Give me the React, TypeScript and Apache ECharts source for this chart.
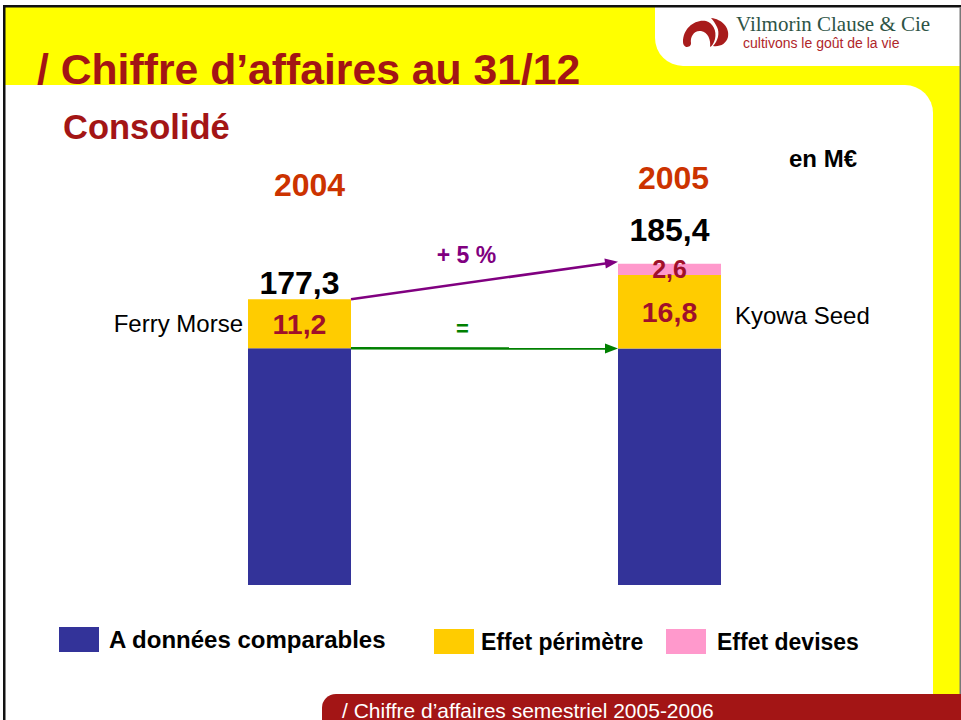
import React, { useEffect, useRef } from "react";
import * as echarts from "echarts";

const categories = ["2004", "2005"];
const comparable = [166.1, 166.0];
const perimetre = [11.2, 16.8];
const devises: (number | null)[] = [null, 2.6];
const totals = [177.3, 185.4];
const legendNames = ["A données comparables", "Effet périmètre", "Effet devises"];
const sideLabels = ["Ferry Morse", "Kyowa Seed"];
const growthLabel = "+ 5 %";
const flatLabel = "=";
const titleText = "/ Chiffre d\u2019affaires au 31/12";
const subtitleText = "Consolidé";
const unitText = "en M€";
const footerText = "/ Chiffre d\u2019affaires semestriel 2005-2006";
const brandName = "Vilmorin Clause & Cie";
const brandTagline = "cultivons le goût de la vie";

const F = "'Liberation Sans', Arial, sans-serif";
const FS = "'Liberation Serif', 'Times New Roman', serif";
const fmt = (v: number) => String(v).replace(".", ",");

echarts.graphic.registerShape(
  "vcLeft",
  echarts.graphic.extendPath(
    "M 1 25 C 1 11 13 2 24 4 C 31 6 35 14 33 22 C 32 26 30 29 28 30 C 29 23 26 15 19 14 C 12 13 8 20 9 26 C 9 29 7 30 4 30 C 2 29 1 27 1 25 Z",
    {}
  )
);
echarts.graphic.registerShape(
  "vcRight",
  echarts.graphic.extendPath(
    "M 29 1 C 40 2 48 11 46 20 C 44 27 38 30 31 29 C 36 24 38 16 35 10 C 33 6 31 3 29 1 Z",
    {}
  )
);

export default function App() {
  const ref = useRef<HTMLDivElement>(null);
  useEffect(() => {
    if (!ref.current) return;
    const chart = echarts.init(ref.current, null, { renderer: "svg" });
    const legendPos = [
      [59, 627, 5, 24],
      [434, 629, 2, 23],
      [666, 629, 6, 23],
    ];
    const totalDistance = [0, 18];
    const yearFont = { color: "#cc3300", fontSize: 32, fontWeight: "bold", fontFamily: F };
    chart.setOption({
      animation: false,
      backgroundColor: "#ffffff",
      grid: { left: 114.5, right: 106.5, top: 156, bottom: 135 },
      xAxis: {
        type: "category",
        data: categories,
        position: "top",
        offset: -45,
        axisLine: { show: false },
        axisTick: { show: false },
        splitLine: { show: false },
        axisLabel: {
          margin: 0,
          ...yearFont,
          formatter: (v: string, i: number) => `{y${i}|${v}}`,
          rich: {
            y0: { ...yearFont, padding: [0, 0, 0, 20] },
            y1: { ...yearFont, padding: [0, 0, 7, 8] },
          },
        },
      },
      yAxis: { type: "value", min: 112, max: 210, show: false },
      legend: legendNames.map((n, i) => ({
        data: [n],
        left: legendPos[i][0],
        top: legendPos[i][1],
        padding: 0,
        itemWidth: 40,
        itemHeight: 25,
        icon: "rect",
        selectedMode: false,
        textStyle: {
          fontSize: legendPos[i][3],
          fontWeight: "bold",
          color: "#000",
          fontFamily: F,
          padding: [0, 0, 0, legendPos[i][2]],
        },
      })),
      series: [
        {
          name: legendNames[0],
          type: "bar",
          stack: "ca",
          barWidth: 103,
          data: comparable,
          itemStyle: { color: "#333399" },
        },
        {
          name: legendNames[1],
          type: "bar",
          stack: "ca",
          barWidth: 103,
          data: perimetre,
          itemStyle: { color: "#ffcc00" },
          label: {
            show: true,
            position: "inside",
            formatter: (p: any) => fmt(p.value),
            color: "#a0102a",
            fontSize: 28.5,
            fontWeight: "bold",
            fontFamily: F,
          },
        },
        {
          name: legendNames[2],
          type: "bar",
          stack: "ca",
          barWidth: 103,
          data: devises,
          itemStyle: { color: "#ff99cc" },
          label: {
            show: true,
            position: "inside",
            formatter: (p: any) => fmt(p.value),
            color: "#a0102a",
            fontSize: 25,
            fontWeight: "bold",
            fontFamily: F,
          },
        },
        {
          type: "scatter",
          silent: true,
          symbolSize: 0,
          itemStyle: { opacity: 1 },
          data: totals.map((t, i) => ({
            value: [categories[i], t],
            label: { distance: totalDistance[i] },
          })),
          label: {
            show: true,
            position: "top",
            formatter: (p: any) => fmt(p.value[1]),
            color: "#000000",
            fontSize: 32,
            fontWeight: "bold",
            fontFamily: F,
          },
        },
      ],
    });

    const px = (c: string) => chart.convertToPixel({ xAxisIndex: 0 }, c) as number;
    const py = (v: number) => chart.convertToPixel({ yAxisIndex: 0 }, v) as number;
    const half = 51.5;
    const x0 = px(categories[0]);
    const x1 = px(categories[1]);
    const yTot0 = py(totals[0]);
    const yTot1 = py(totals[1]);
    const yBase0 = py(comparable[0]);
    const yBase1 = py(comparable[1]);
    const yPer1 = py(comparable[1] + perimetre[1]);

    const arrow = (xa: number, ya: number, xb: number, yb: number, color: string) => {
      const dx = xb - xa, dy = yb - ya;
      const L = Math.hypot(dx, dy);
      const ux = dx / L, uy = dy / L;
      const hl = 13, hw = 5;
      const bx = xb - ux * hl, by = yb - uy * hl;
      return [
        { type: "line", z: 10, shape: { x1: xa, y1: ya, x2: bx + ux * 2, y2: by + uy * 2 }, style: { stroke: color, lineWidth: 2.5 } },
        {
          type: "polygon",
          z: 10,
          shape: { points: [[xb, yb], [bx - uy * hw, by + ux * hw], [bx + uy * hw, by - ux * hw]] },
          style: { fill: color },
        },
      ];
    };

    const pStart = [x0 + half, yTot0];
    const pEnd = [x1 - half, yTot1 - 2];
    const gStart = [x0 + half, yBase0];
    const gEnd = [x1 - half, yBase1];

    const bg = -10;
    chart.setOption({
      graphic: [
        { type: "rect", z: bg, shape: { x: 0, y: 0, width: 961, height: 720 }, style: { fill: "#ffffff" } },
        { type: "rect", z: bg, shape: { x: 5, y: 7, width: 956, height: 687 }, style: { fill: "#ffff00" } },
        { type: "rect", z: bg, shape: { x: 5, y: 85, width: 928, height: 635, r: [0, 28, 0, 0] }, style: { fill: "#ffffff" } },
        { type: "rect", z: bg, shape: { x: 655, y: 7, width: 306, height: 59, r: [0, 0, 0, 28] }, style: { fill: "#ffffff" } },
        { type: "rect", z: bg, shape: { x: 3, y: 5, width: 958, height: 2.5 }, style: { fill: "#111111" } },
        { type: "rect", z: bg, shape: { x: 3, y: 5, width: 2.5, height: 715 }, style: { fill: "#111111" } },
        { type: "rect", z: bg, shape: { x: 959.5, y: 7, width: 1.5, height: 687 }, style: { fill: "#777777" } },
        { type: "rect", z: bg, shape: { x: 322, y: 694, width: 639, height: 26, r: [14, 0, 0, 0] }, style: { fill: "#a31515" } },
        { type: "vcLeft", z: 10, x: 682, y: 17, style: { fill: "#a81c1c" } },
        { type: "vcRight", z: 10, x: 682, y: 17, style: { fill: "#a81c1c" } },
        {
          type: "text", z: 10, x: 736, y: 24,
          style: { text: brandName, font: `21px ${FS}`, fill: "#2e5446", verticalAlign: "middle" },
        },
        {
          type: "text", z: 10, x: 743, y: 42.5,
          style: { text: brandTagline, font: `14px ${F}`, fill: "#b0262a", verticalAlign: "middle" },
        },
        {
          type: "text", z: 10, x: 37, y: 68.5,
          style: { text: titleText, font: `bold 42.7px ${F}`, fill: "#a31515", verticalAlign: "middle" },
        },
        {
          type: "text", z: 10, x: 63, y: 126.5,
          style: { text: subtitleText, font: `bold 34.5px ${F}`, fill: "#a31515", verticalAlign: "middle" },
        },
        {
          type: "text", z: 10, x: 789, y: 158.5,
          style: { text: unitText, font: `bold 24px ${F}`, fill: "#000000", verticalAlign: "middle" },
        },
        {
          type: "text", z: 10, x: 342, y: 710,
          style: { text: footerText, font: `21px ${F}`, fill: "#ffffff", verticalAlign: "middle" },
        },
        {
          type: "text", z: 10, x: x0 - half - 5, y: (yBase0 + yTot0) / 2,
          style: { text: sideLabels[0], font: `24px ${F}`, fill: "#000000", align: "right", verticalAlign: "middle" },
        },
        {
          type: "text", z: 10, x: x1 + half + 14, y: (yBase1 + yPer1) / 2 + 4,
          style: { text: sideLabels[1], font: `24px ${F}`, fill: "#000000", align: "left", verticalAlign: "middle" },
        },
        ...arrow(pStart[0], pStart[1], pEnd[0], pEnd[1], "#800080"),
        ...arrow(gStart[0], gStart[1], gEnd[0], gEnd[1], "#008000"),
        {
          type: "text", z: 10, x: (pStart[0] + pEnd[0]) / 2 - 18, y: (pStart[1] + pEnd[1]) / 2 - 25,
          style: { text: growthLabel, font: `bold 23px ${F}`, fill: "#800080", align: "center", verticalAlign: "middle" },
        },
        {
          type: "text", z: 10, x: (gStart[0] + gEnd[0]) / 2 - 22, y: (gStart[1] + gEnd[1]) / 2 - 20,
          style: { text: flatLabel, font: `bold 22px ${F}`, fill: "#008000", align: "center", verticalAlign: "middle" },
        },
      ],
    });

    return () => chart.dispose();
  }, []);
  return <div ref={ref} style={{ position: "fixed", left: 0, top: 0, width: 961, height: 720 }} />;
}
